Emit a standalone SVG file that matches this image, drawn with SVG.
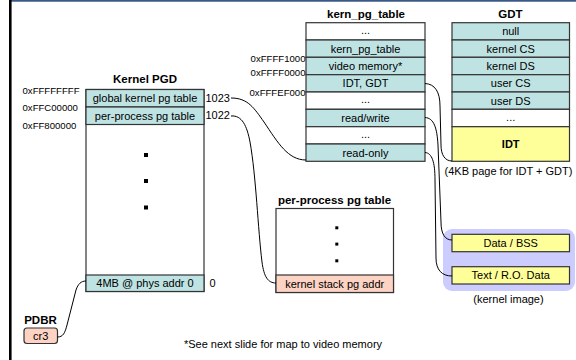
<svg xmlns="http://www.w3.org/2000/svg" width="576" height="360" viewBox="0 0 576 360">
<style>
text{font-family:"Liberation Sans",Arial,sans-serif;fill:#000}
.t{font-size:11px;text-anchor:middle}
.h{font-size:11.5px;font-weight:bold;text-anchor:middle}
.a{font-size:9.6px}
.ae{font-size:9.6px;text-anchor:end}
.n{font-size:11px}
.teal{fill:#bfe3e3;stroke:#333;stroke-width:1.2}
.wh{fill:#fff;stroke:#333;stroke-width:1.2}
.yel{fill:#ffff99;stroke:#333;stroke-width:1.2}
.sal{fill:#fdd3c3;stroke:#333;stroke-width:1.2}
.c{fill:none;stroke:#000;stroke-width:1}
</style>
<rect x="0" y="0" width="576" height="360" fill="#fff"/>
<line x1="10" y1="0.8" x2="576" y2="0.8" stroke="#3c5a85" stroke-width="1.8"/>
<line x1="10.3" y1="0" x2="10.3" y2="360" stroke="#000" stroke-width="2.6"/>

<g id="kernel-pgd">
<text class="h" x="145" y="83">Kernel PGD</text>
<rect class="wh" x="86" y="89.5" width="118" height="202"/>
<rect class="teal" x="86" y="89.5" width="118" height="17.5"/>
<rect class="teal" x="86" y="107" width="118" height="17.5"/>
<rect class="teal" x="86" y="275" width="118" height="16.5"/>
<text class="t" x="145" y="102.3">global kernel pg table</text>
<text class="t" x="145" y="119.8">per-process pg table</text>
<text class="t" x="145" y="287">4MB @ phys addr 0</text>
<rect x="144" y="153" width="4" height="4" fill="#000"/>
<rect x="144" y="179" width="4" height="4" fill="#000"/>
<rect x="144" y="205.5" width="4" height="4" fill="#000"/>
<text class="a" x="22.5" y="93.5">0xFFFFFFFF</text>
<text class="a" x="22.5" y="110.5">0xFFC00000</text>
<text class="a" x="22.5" y="128.5">0xFF800000</text>
<text class="n" x="205.5" y="102">1023</text>
<text class="n" x="205.5" y="119">1022</text>
<text class="n" x="209.5" y="287">0</text>
</g>

<g id="kern-pg-table">
<text class="h" x="366" y="18">kern_pg_table</text>
<rect class="wh" x="306" y="22.7" width="119" height="17.3"/>
<rect class="teal" x="306" y="40" width="119" height="17.3"/>
<rect class="teal" x="306" y="57.3" width="119" height="17.4"/>
<rect class="teal" x="306" y="74.7" width="119" height="17.3"/>
<rect class="wh" x="306" y="92" width="119" height="17.3"/>
<rect class="teal" x="306" y="109.3" width="119" height="17.4"/>
<rect class="wh" x="306" y="126.7" width="119" height="17.3"/>
<rect class="teal" x="306" y="144" width="119" height="17.3"/>
<text class="t" x="365.5" y="34">...</text>
<text class="t" x="365.5" y="52.5">kern_pg_table</text>
<text class="t" x="365.5" y="69.8">video memory*</text>
<text class="t" x="365.5" y="87.2">IDT, GDT</text>
<text class="t" x="365.5" y="103.3">...</text>
<text class="t" x="365.5" y="121.8">read/write</text>
<text class="t" x="365.5" y="138">...</text>
<text class="t" x="365.5" y="156.5">read-only</text>
<text class="ae" x="305.5" y="62">0xFFFF1000</text>
<text class="ae" x="305.5" y="76">0xFFFF0000</text>
<text class="ae" x="305.5" y="96">0xFFFEF000</text>
</g>

<g id="gdt">
<text class="h" x="510.5" y="18">GDT</text>
<rect class="teal" x="452" y="22.7" width="117.5" height="17.3"/>
<rect class="teal" x="452" y="40" width="117.5" height="17.3"/>
<rect class="teal" x="452" y="57.3" width="117.5" height="17.4"/>
<rect class="teal" x="452" y="74.7" width="117.5" height="17.3"/>
<rect class="teal" x="452" y="92" width="117.5" height="17.3"/>
<rect class="wh" x="452" y="109.3" width="117.5" height="17.4"/>
<rect class="yel" x="452" y="126.7" width="117.5" height="34.6" stroke-width="1.6"/>
<text class="t" x="510.7" y="35.2">null</text>
<text class="t" x="510.7" y="52.5">kernel CS</text>
<text class="t" x="510.7" y="69.8">kernel DS</text>
<text class="t" x="510.7" y="87.2">user CS</text>
<text class="t" x="510.7" y="104.5">user DS</text>
<text class="t" x="510.7" y="120.5">...</text>
<text class="t" x="510.7" y="148" font-weight="bold">IDT</text>
<text class="t" x="508.5" y="175">(4KB page for IDT + GDT)</text>
</g>

<g id="kernel-image">
<rect x="443" y="229" width="132" height="62" rx="9" fill="#ccccff"/>
<rect class="yel" x="452" y="234.3" width="117.5" height="17.4"/>
<rect class="yel" x="452" y="266.7" width="117.5" height="17.3"/>
<text class="t" x="510.7" y="247">Data / BSS</text>
<text class="t" x="510.7" y="279.3">Text / R.O. Data</text>
<text class="t" x="508.5" y="303">(kernel image)</text>
</g>

<g id="per-process-pg-table">
<text class="h" x="334.5" y="204">per-process pg table</text>
<rect class="wh" x="276" y="208.5" width="117.5" height="84"/>
<rect class="sal" x="276" y="275" width="117.5" height="17.5"/>
<text class="t" x="334.7" y="287.5">kernel stack pg addr</text>
<rect x="335.3" y="226.3" width="3" height="3" fill="#000"/>
<rect x="335.3" y="242.6" width="3" height="3" fill="#000"/>
<rect x="335.3" y="259.3" width="3" height="3" fill="#000"/>
</g>

<g id="pdbr">
<text class="h" x="40.5" y="324">PDBR</text>
<rect class="sal" x="24" y="328" width="33.5" height="15.5" rx="3"/>
<text class="t" x="40.7" y="340">cr3</text>
</g>

<text class="t" x="283" y="348" font-size="10">*See next slide for map to video memory</text>

<g id="connectors">
<path class="c" d="M57.5,337 C63,337 65,333 67,325 L76,290 C78,284 81,281 86,281"/>
<path class="c" d="M231,98 C248,98 254,108 264,122 C278,143 288,160 306,160"/>
<path class="c" d="M231,116 C242,115 247,126 250,142 C256,175 258,230 262,262 C264,277 268,283 276,283"/>
<path class="c" d="M425,83.5 C435,84 440,92 440,106 L441,145 C441,155 445,161 452,161"/>
<path class="c" d="M425,117.5 C434,118 437,128 438,145 L441,222 C441,234 445,240 452,240"/>
<path class="c" d="M425,152.5 C432,153 435,162 435,180 L436,258 C436,270 442,276 452,276"/>
</g>
</svg>
